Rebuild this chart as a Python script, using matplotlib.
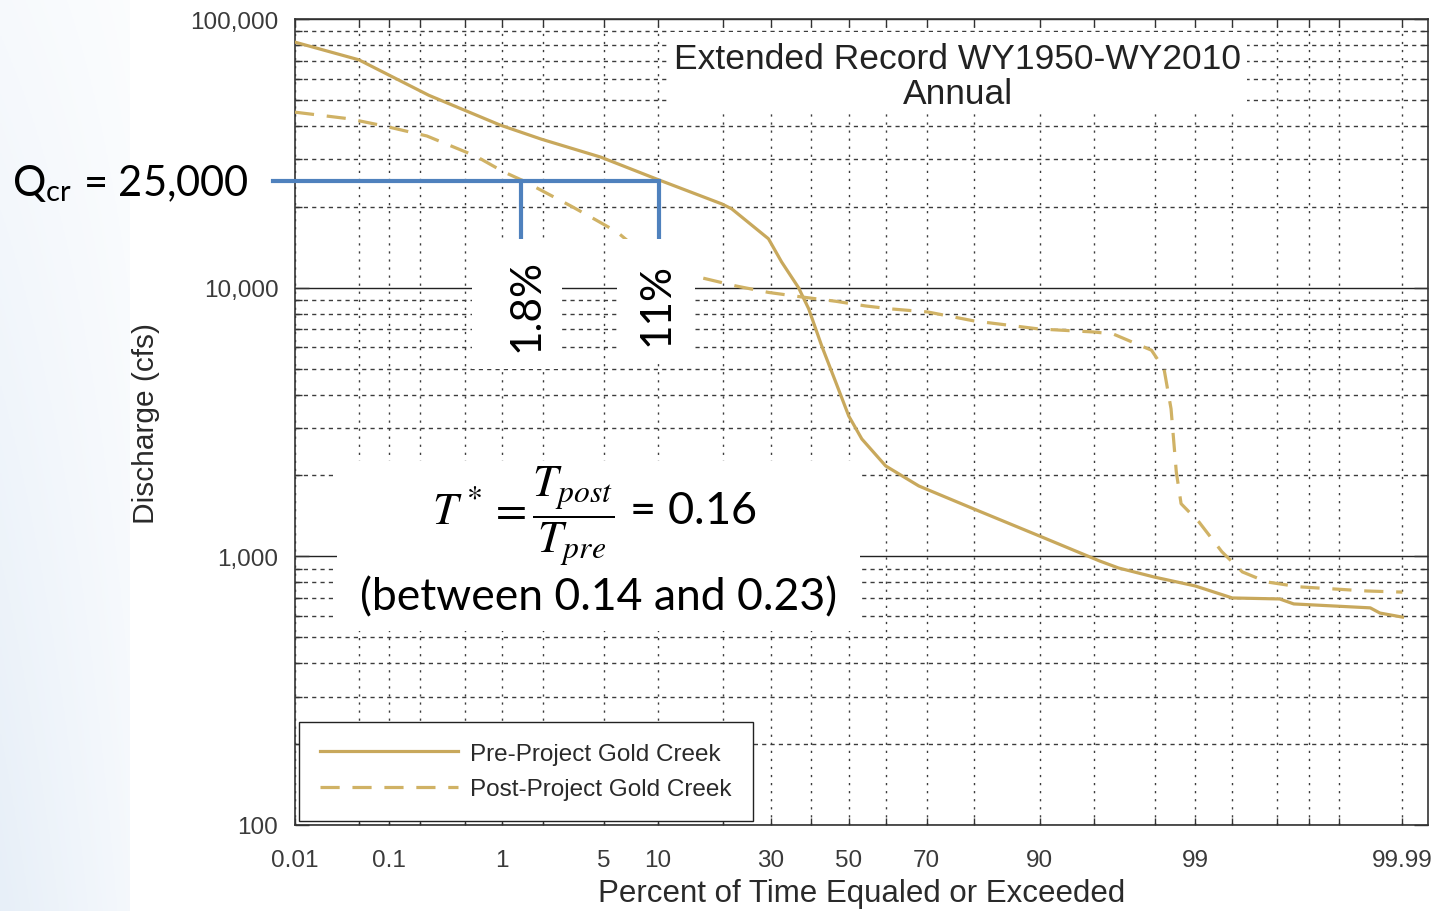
import math
import numpy as np
import matplotlib
matplotlib.use("Agg")
import matplotlib.pyplot as plt
from matplotlib.ticker import FixedLocator, NullLocator, FuncFormatter, LogLocator, NullFormatter
from matplotlib.patches import Rectangle

# ---------------- data (percent of time equaled or exceeded, discharge cfs) ----------------
pre_pct = [0.01, 0.05, 0.24, 0.96, 1.95, 4.8, 9.8, 19.7, 21.6, 29.5, 32.6, 36.8, 39.4,
           42.8, 46.5, 50.0, 53.5, 59.8, 68.1, 80.0, 90.0, 95.4, 96.5, 98.0, 99.0, 99.5,
           99.81, 99.86, 99.977, 99.982, 99.99]
pre_q = [82000, 70500, 52000, 40300, 35700, 30600, 25400, 20500, 19650, 15200, 12470, 10000, 8340,
         6070, 4460, 3330, 2735, 2170, 1828, 1500, 1190, 961, 905, 837, 776, 700,
         694, 665, 643, 615, 594]

post_pct = [0.01, 0.04, 0.09, 0.23, 0.61, 1.02, 1.44, 3.12, 4.38, 6.0, 9.0, 12.0, 15.6, 22.4,
            29.5, 37.6, 46.5, 54.5, 61.4, 70.2, 80.0, 89.9, 95.0, 96.2, 97.9, 98.29, 98.48,
            98.61, 98.72, 99.07, 99.39, 99.59, 99.75, 99.876, 99.975, 99.99]
post_q = [45000, 42500, 40000, 36700, 30900, 27000, 25000, 20100, 18000, 16100, 12800, 11500, 10960, 10150,
          9600, 9235, 8900, 8550, 8330, 8120, 7520, 7020, 6840, 6730, 5850, 4980, 3540,
          2060, 1570, 1340, 1040, 875, 803, 770, 743, 736]

series_labels = ["Pre-Project Gold Creek", "Post-Project Gold Creek"]

grid_pct = [0.01, 0.05, 0.1, 0.2, 0.5, 1, 2, 5, 10, 20, 30, 40, 50, 60, 70, 80, 90,
            95, 98, 99, 99.5, 99.8, 99.9, 99.95, 99.99]
label_pct = [0.01, 0.1, 1, 5, 10, 30, 50, 70, 90, 99, 99.99]
label_txt = ["0.01", "0.1", "1", "5", "10", "30", "50", "70", "90", "99", "99.99"]

qcr = 25000
qcr_line_start_pct = 0.0055
cross_pct = [1.39, 10.1]
cross_labels = ["1.8%", "11%"]
cross_bottom_q = 15200

title_text = "Extended Record WY1950-WY2010\nAnnual"

# ---------------- probability scale helpers ----------------
_a = [-3.969683028665376e+01, 2.209460984245205e+02, -2.759285104469687e+02,
      1.383577518672690e+02, -3.066479806614716e+01, 2.506628277459239e+00]
_b = [-5.447609879822406e+01, 1.615858368580409e+02, -1.556989798598866e+02,
      6.680131188771972e+01, -1.328068155288572e+01]
_c = [-7.784894002430293e-03, -3.223964580411365e-01, -2.400758277161838e+00,
      -2.549671750135055e+00, 4.374664141464968e+00, 2.938163982698783e+00]
_d = [7.784695709041462e-03, 3.224671290700398e-01, 2.445134137142996e+00,
      3.754408661907416e+00]


def _ndtri(p):
    p = np.clip(np.asarray(p, dtype=float), 1e-15, 1 - 1e-15)
    shp = p.shape
    p = np.atleast_1d(p).ravel()
    out = np.empty_like(p)
    plow = 0.02425
    lo = p < plow
    hi = p > 1 - plow
    mid = ~(lo | hi)
    if lo.any():
        q = np.sqrt(-2 * np.log(p[lo]))
        out[lo] = (((((_c[0]*q+_c[1])*q+_c[2])*q+_c[3])*q+_c[4])*q+_c[5]) / \
                  ((((_d[0]*q+_d[1])*q+_d[2])*q+_d[3])*q+1)
    if mid.any():
        q = p[mid] - 0.5
        r = q*q
        out[mid] = (((((_a[0]*r+_a[1])*r+_a[2])*r+_a[3])*r+_a[4])*r+_a[5])*q / \
                   (((((_b[0]*r+_b[1])*r+_b[2])*r+_b[3])*r+_b[4])*r+1)
    if hi.any():
        q = np.sqrt(-2 * np.log(1 - p[hi]))
        out[hi] = -(((((_c[0]*q+_c[1])*q+_c[2])*q+_c[3])*q+_c[4])*q+_c[5]) / \
                   ((((_d[0]*q+_d[1])*q+_d[2])*q+_d[3])*q+1)
    return out.reshape(shp)


_verf = np.vectorize(math.erf, otypes=[float])


def fwd(x):
    return _ndtri(np.asarray(x, dtype=float) / 100.0)


def inv(z):
    z = np.asarray(z, dtype=float)
    return 100.0 * 0.5 * (1 + _verf(z / math.sqrt(2)))


# ---------------- figure ----------------
W, H = 1440, 912
plt.rcParams['font.family'] = ['Liberation Sans', 'DejaVu Sans']
plt.rcParams['mathtext.fontset'] = 'stix'

fig = plt.figure(figsize=(W/100, H/100), dpi=100)
fig.patch.set_facecolor('white')


def fx(x):
    return x / W


def fy(y):
    return 1 - y / H


# slide background strip at the left
bg = fig.add_axes([0, 0, fx(130), 1], zorder=-10)
xx = np.linspace(0, 1, 60)[None, :]
yy = np.linspace(0, 1, 200)[:, None]
strength = (1 - 0.55 * xx) * (0.35 + 0.65 * yy)
base = np.array([255, 255, 255], float)
delta = np.array([24, 16, 7], float)
img = (base[None, None, :] - strength[:, :, None] * delta[None, None, :]) / 255.0
bg.imshow(img, aspect='auto', extent=[0, 1, 1, 0])
bg.set_axis_off()

L, R, T, B = 295, 1428, 20, 826
ax = fig.add_axes([fx(L), fy(B), fx(R) - fx(L), fy(T) - fy(B)])
ax.set_xscale('function', functions=(fwd, inv))
ax.set_yscale('log')
ax.set_xlim(0.01, 99.995)
ax.set_ylim(100, 100000)

gold = '#C8A85C'
gold2 = '#D0B265'
ax.plot(pre_pct, pre_q, color=gold, lw=2.3, label=series_labels[0], zorder=4)
ax.plot(post_pct, post_q, color=gold2, lw=2.3, ls=(0, (6, 4)), label=series_labels[1], zorder=4)

# ticks
ax.xaxis.set_major_locator(FixedLocator(grid_pct))
ax.xaxis.set_minor_locator(NullLocator())
lab_map = dict(zip(label_pct, label_txt))
ax.xaxis.set_major_formatter(FuncFormatter(lambda v, pos: lab_map.get(grid_pct[pos], "") if pos is not None and pos < len(grid_pct) else ""))
ax.yaxis.set_major_locator(LogLocator(base=10, numticks=10))
ax.yaxis.set_minor_locator(LogLocator(base=10, subs=np.arange(2, 10), numticks=20))
ax.yaxis.set_major_formatter(FuncFormatter(lambda v, pos: f"{int(round(v)):,}"))
ax.yaxis.set_minor_formatter(NullFormatter())

tick_col = '#3a3a3a'
ax.tick_params(axis='x', which='major', direction='in', length=5, width=1, top=True, bottom=True,
               labelsize=17.5, labelcolor=tick_col, pad=17, color='#333333')
ax.tick_params(axis='y', which='major', direction='in', length=10, width=1, left=True, right=True,
               labelsize=17.5, labelcolor=tick_col, pad=12, color='#333333')
ax.tick_params(axis='y', which='minor', direction='in', length=5, width=1, left=True, right=True,
               color='#333333')

# grid
ax.grid(which='major', axis='x', ls=(0, (1.6, 4.2)), color='#3c3c3c', lw=1.0)
ax.grid(which='minor', axis='y', ls=(0, (3, 3)), color='#3c3c3c', lw=1.0)
ax.grid(which='major', axis='y', ls='-', color='#222222', lw=1.0)
ax.set_axisbelow(True)
for s in ax.spines.values():
    s.set_color('#333333')
    s.set_linewidth(1.2)

ax.set_xlabel("Percent of Time Equaled or Exceeded", fontsize=22.5, color='#2a2a2a', labelpad=5)
ax.set_ylabel("Discharge (cfs)", fontsize=21.5, color='#2a2a2a', labelpad=22)

leg = ax.legend(loc='upper left', bbox_to_anchor=(fx(299), fy(723)), bbox_transform=fig.transFigure,
                fontsize=17.5, handlelength=5.7, handletextpad=0.5, borderpad=0.85,
                labelspacing=0.55, borderaxespad=0, frameon=True, fancybox=False, framealpha=1)
leg.get_frame().set_edgecolor('#222222')
leg.get_frame().set_linewidth(1.0)
for t in leg.get_texts():
    t.set_color('#2a2a2a')

# Qcr annotation lines (blue)
blue = '#4F81BD'
ax.plot([qcr_line_start_pct, cross_pct[1], cross_pct[1]], [qcr, qcr, cross_bottom_q],
        color=blue, lw=3.0, clip_on=False, zorder=6, solid_joinstyle='miter')
ax.plot([cross_pct[0], cross_pct[0]], [qcr, cross_bottom_q], color=blue, lw=3.0,
        clip_on=False, zorder=6)

# white boxes (slide overlays and the in-axes title box)
boxes = [(670, 33, 1247, 113), (472, 240, 562, 370), (617, 240, 695, 360), (337, 462, 860, 632)]
for (x0, y0, x1, y1) in boxes:
    fig.add_artist(Rectangle((fx(x0), fy(y1)), fx(x1) - fx(x0), fy(y0) - fy(y1),
                             transform=fig.transFigure, facecolor='white', edgecolor='none', zorder=1))

fig.text(fx(958), fy(77), title_text, ha='center', va='center', fontsize=25.5, color='#222222',
         linespacing=1.05, zorder=3)

ann_font = ['Lato', 'DejaVu Sans']
fig.text(fx(12), fy(183), r"Q$_{\mathregular{cr}}$ = 25,000", ha='left', va='center', fontsize=30,
         family=ann_font, color='black', zorder=3)
fig.text(fx(527), fy(306), cross_labels[0], rotation=90, ha='center', va='center', fontsize=30.5,
         family=ann_font, color='black', zorder=3)
fig.text(fx(657), fy(305), cross_labels[1], rotation=90, ha='center', va='center', fontsize=30.5,
         family=ann_font, color='black', zorder=3)
fig.text(fx(594), fy(517), r"$T^* = \dfrac{T_{post}}{T_{pre}}$ = 0.16", ha='center', va='center',
         fontsize=32.5, family=ann_font, color='black', zorder=3)
fig.text(fx(599), fy(598), "(between 0.14 and 0.23)", ha='center', va='center', fontsize=32,
         family=ann_font, color='black', zorder=3)

fig.savefig("out.png", dpi=100)
